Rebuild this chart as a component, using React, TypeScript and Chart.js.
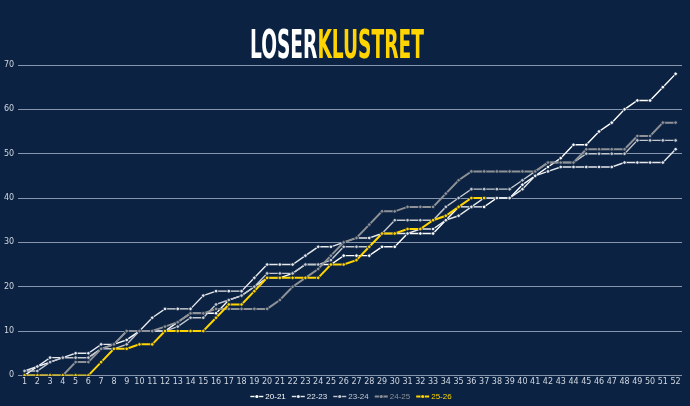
import React, { useEffect, useRef } from "react";
import { Chart, registerables } from "chart.js";
Chart.register(...registerables);

const rounds = ["1","2","3","4","5","6","7","8","9","10","11","12","13","14","15","16","17","18","19","20","21","22","23","24","25","26","27","28","29","30","31","32","33","34","35","36","37","38","39","40","41","42","43","44","45","46","47","48","49","50","51","52"];

const s2021 = [0,2,3,4,4,4,6,7,8,10,10,10,12,14,14,14,17,18,20,22,22,23,25,25,25,27,27,27,29,29,32,32,32,35,38,38,38,40,40,43,45,47,49,52,52,55,57,60,62,62,65,68];
const s2223 = [1,2,4,4,5,5,7,7,10,10,13,15,15,15,18,19,19,19,22,25,25,25,27,29,29,30,31,31,32,32,32,33,33,35,36,38,40,40,40,42,45,46,47,47,47,47,47,48,48,48,48,51];
const s2324 = [1,1,3,4,4,4,6,6,7,10,10,10,11,13,13,16,17,18,20,23,23,23,25,25,26,29,29,29,32,35,35,35,35,38,40,42,42,42,42,44,46,48,48,48,50,50,50,50,53,53,53,53];
const s2425 = [0,0,0,0,3,3,6,7,10,10,10,11,12,14,14,15,15,15,15,15,17,20,22,24,27,30,31,34,37,37,38,38,38,41,44,46,46,46,46,46,46,48,48,48,51,51,51,51,54,54,57,57];
const s2526 = [0,0,0,0,0,0,3,6,6,7,7,10,10,10,10,13,16,16,19,22,22,22,22,22,25,25,26,29,32,32,33,33,35,36,38,40,40];

const seasonNames = ["20-21","22-23","23-24","24-25","25-26"];
const seasonColors = ["#ffffff","#e6e8ec","#c4c8cf","#8e9196","#ffd400"];
const seasonWidths = [1.4,1.4,1.4,2,2];
const yTicks = [0,10,20,30,40,50,60,70];

const NAVY = "#0b2242";

const bgPlugin = {
  id: "bg",
  beforeDraw(chart: any) {
    const { ctx, width, height } = chart;
    ctx.save();
    ctx.fillStyle = NAVY;
    ctx.fillRect(0, 0, width, height);
    ctx.restore();
  },
};

const titlePlugin = {
  id: "twoToneTitle",
  afterDraw(chart: any) {
    const ctx = chart.ctx;
    ctx.save();
    ctx.font = 'bold 39px "Liberation Sans Narrow", "DejaVu Sans Condensed", sans-serif';
    ctx.textBaseline = "alphabetic";
    const a = "LOSER";
    const b = "KLUSTRET";
    const wa = ctx.measureText(a).width;
    const wb = ctx.measureText(b).width;
    const target = 174;
    const sx = target / (wa + wb);
    ctx.translate(250, 58);
    ctx.scale(sx, 1);
    ctx.fillStyle = "#ffffff";
    ctx.fillText(a, 0, 0);
    ctx.fillStyle = "#ffd400";
    ctx.fillText(b, wa, 0);
    ctx.restore();
  },
};

const legendPlugin = {
  id: "lineLegend",
  afterDraw(chart: any) {
    const ctx = chart.ctx;
    const sets = chart.data.datasets;
    ctx.save();
    ctx.font = '8px "Liberation Sans Narrow", "Liberation Sans", sans-serif';
    ctx.textBaseline = "middle";
    const markW = 13;
    const gap = 2;
    const itemGap = 6;
    const widths = sets.map((ds: any) => markW + gap + ctx.measureText(ds.label).width);
    const total = widths.reduce((s: number, w: number) => s + w, 0) + itemGap * (sets.length - 1);
    let x = chart.width / 2 - total / 2 + 6;
    const y = 396.5;
    sets.forEach((ds: any, i: number) => {
      const c = ds.borderColor;
      ctx.strokeStyle = c;
      ctx.lineWidth = ds.borderWidth;
      ctx.beginPath();
      ctx.moveTo(x, y);
      ctx.lineTo(x + markW, y);
      ctx.stroke();
      ctx.fillStyle = NAVY;
      ctx.beginPath();
      ctx.arc(x + markW / 2, y, 2.3, 0, Math.PI * 2);
      ctx.fill();
      ctx.fillStyle = c;
      ctx.beginPath();
      ctx.arc(x + markW / 2, y, 1.6, 0, Math.PI * 2);
      ctx.fill();
      ctx.fillText(ds.label, x + markW + gap, y);
      x += widths[i] + itemGap;
    });
    ctx.restore();
  },
};

export default function App() {
  const ref = useRef<HTMLCanvasElement | null>(null);
  useEffect(() => {
    document.body.style.margin = "0";
    document.body.style.background = NAVY;
    const series = [s2021, s2223, s2324, s2425, s2526];
    const chart = new Chart(ref.current as HTMLCanvasElement, {
      type: "line",
      data: {
        labels: rounds,
        datasets: series.map((d, i) => ({
          label: seasonNames[i],
          data: d,
          borderColor: seasonColors[i],
          backgroundColor: seasonColors[i],
          borderWidth: seasonWidths[i],
          pointRadius: 1.8,
          pointBorderWidth: 0.8,
          pointBorderColor: NAVY,
          pointBackgroundColor: seasonColors[i],
          tension: 0,
          order: i === 4 ? 0 : 5 - i,
        })),
      },
      options: {
        responsive: false,
        animation: false,
        layout: { padding: { top: 65, left: 0, right: 8, bottom: 17 } },
        plugins: {
          title: { display: false },
          tooltip: { enabled: false },
          legend: { display: false },
        },
        scales: {
          x: {
            offset: true,
            grid: { display: false, drawTicks: false },
            border: { display: false },
            ticks: {
              color: "#d0d6e0",
              font: { size: 8, family: "'DejaVu Sans', sans-serif" },
              maxRotation: 0,
              autoSkip: false,
              padding: 2,
            },
          },
          y: {
            min: 0,
            max: 70,
            afterBuildTicks(scale: any) {
              scale.ticks = yTicks.map((v) => ({ value: v }));
            },
            grid: { color: "#8795ad", lineWidth: 1, drawTicks: false },
            border: { display: false },
            ticks: {
              color: "#d0d6e0",
              font: { size: 8, family: "'DejaVu Sans', sans-serif" },
              padding: 4,
            },
          },
        },
      },
      plugins: [bgPlugin, titlePlugin, legendPlugin],
    });
    return () => chart.destroy();
  }, []);
  return <canvas ref={ref} width={690} height={406} style={{ display: "block" }} />;
}
